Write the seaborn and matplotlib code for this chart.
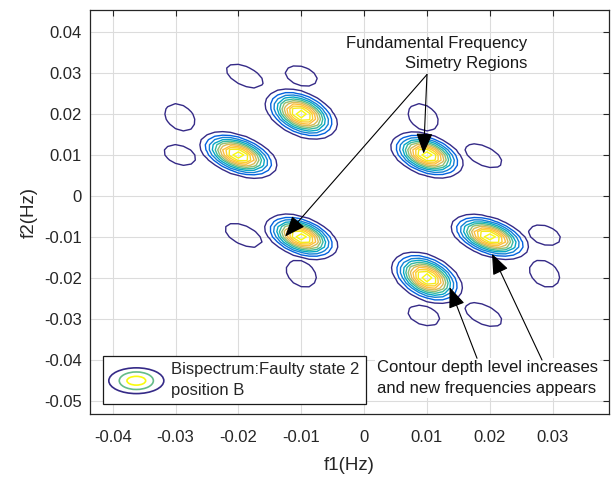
import numpy as np
import matplotlib
matplotlib.use("Agg")
import matplotlib.pyplot as plt
import seaborn as sns
from matplotlib.patches import Ellipse
from matplotlib.legend_handler import HandlerBase
from matplotlib.lines import Line2D
from matplotlib.colors import LinearSegmentedColormap

# ---------------- data ----------------
# main bispectrum peaks (f1, f2 in Hz), amplitude (normalised), lobe shape
peak_f1 = [-0.010, -0.020, 0.010, -0.010, 0.020, 0.010]
peak_f2 = [0.020, 0.010, 0.010, -0.010, -0.010, -0.020]
peak_amp = [1.0, 1.0, 1.0, 1.0, 1.0, 1.0]
peak_major = [37.5, 40.0, 37.0, 37.5, 40.0, 37.0]   # semi-axes of outer contour
peak_minor = [21.5, 19.5, 20.0, 19.5, 19.0, 22.0]
peak_tilt = [-24.0, -20.0, -20.0, -20.0, -19.0, -26.0]

# weak side lobes (only the lowest contour level)
blob_f1 = [-0.0190, -0.0100, -0.0293, -0.0293, 0.0094, 0.0190,
           -0.0192, -0.0100, 0.0287, 0.0287, 0.0095, 0.0190]
blob_f2 = [0.0293, 0.0293, 0.0192, 0.0100, 0.0192, 0.0098,
           -0.0096, -0.0190, -0.0096, -0.0190, -0.0292, -0.0290]
blob_amp = [0.14] * 12
blob_major = [20, 16.5, 16.5, 16.5, 16.5, 20, 20, 16.5, 16.5, 16.5, 16.5, 20]
blob_minor = [9.5, 9.5, 12, 9.5, 12, 9.5, 9.5, 12, 9.5, 12, 9.5, 9.5]
blob_tilt = [-25, -18, -35, -18, -35, -25, -25, -35, -18, -35, -18, -25]

contour_levels = [0.10, 0.182, 0.264, 0.346, 0.428, 0.51, 0.592, 0.674, 0.756, 0.838, 0.92]
f_axis_step = 0.00125

x_ticks = [-0.04, -0.03, -0.02, -0.01, 0, 0.01, 0.02, 0.03]
x_ticklabels = ["-0.04", "-0.03", "-0.02", "-0.01", "0", "0.01", "0.02", "0.03"]
y_ticks = [0.04, 0.03, 0.02, 0.01, 0, -0.01, -0.02, -0.03, -0.04, -0.05]
y_ticklabels = ["0.04", "0.03", "0.02", "0.01", "0", "-0.01", "-0.02", "-0.03", "-0.04", "-0.05"]

legend_label = "Bispectrum:Faulty state 2\nposition B"
note_top = "Fundamental Frequency\nSimetry Regions"
note_bottom = "Contour depth level increases\nand new frequencies appears"

# ---------------- style ----------------
sns.set_theme(style="white")
plt.rcParams["font.family"] = ["Liberation Sans", "DejaVu Sans"]
plt.rcParams["axes.unicode_minus"] = False

parula_anchor = [
    (0.2081, 0.1663, 0.5292), (0.0117, 0.3875, 0.8820), (0.0779, 0.5040, 0.8384),
    (0.0228, 0.6535, 0.7768), (0.2178, 0.7250, 0.6193), (0.5709, 0.7485, 0.4494),
    (0.8507, 0.7299, 0.3360), (0.9938, 0.7455, 0.2403), (0.9880, 0.8066, 0.1794),
    (0.9598, 0.9218, 0.0948), (0.9763, 0.9831, 0.0538)]
parula = LinearSegmentedColormap.from_list("parula", parula_anchor)

# ---------------- field ----------------
PX_X, PX_Y = 6280.0, 4086.0   # display aspect (px per Hz) used for lobe shapes
f = np.arange(-0.05, 0.05 + 1e-9, f_axis_step)
F1, F2 = np.meshgrid(f, f)
base = contour_levels[0]


def lobe(cx, cy, amp, a, b, tilt):
    du = (F1 - cx) * PX_X
    dv = (F2 - cy) * PX_Y
    t = np.deg2rad(tilt)
    p = du * np.cos(t) + dv * np.sin(t)
    q = -du * np.sin(t) + dv * np.cos(t)
    k = 2.0 * np.log(amp / base)
    return amp * np.exp(-0.5 * k * ((p / a) ** 2 + (q / b) ** 2))


Zp = np.zeros_like(F1)
for i in range(len(peak_f1)):
    Zp = np.maximum(Zp, lobe(peak_f1[i], peak_f2[i], peak_amp[i], peak_major[i], peak_minor[i], peak_tilt[i]))
Zb = np.zeros_like(F1)
for i in range(len(blob_f1)):
    Zb = np.maximum(Zb, lobe(blob_f1[i], blob_f2[i], blob_amp[i], blob_major[i], blob_minor[i], blob_tilt[i]))

# ---------------- figure ----------------
fig = plt.figure(figsize=(6.11, 4.78), dpi=100)
ax = fig.add_axes([0.1473, 0.1329, 0.8499, 0.8468])

ax.contour(F1, F2, Zp, levels=contour_levels, cmap=parula,
           vmin=contour_levels[0], vmax=contour_levels[-1], linewidths=1.0)
ax.contour(F1, F2, Zb, levels=contour_levels[:1], colors=[parula(0.0)], linewidths=1.0)

ax.set_xlim(-0.0436, 0.0390)
ax.set_ylim(-0.0534, 0.0455)
ax.set_xticks(x_ticks)
ax.set_xticklabels(x_ticklabels)
ax.set_yticks(y_ticks)
ax.set_yticklabels(y_ticklabels)
ax.grid(True, color="#dcdcdc", linewidth=0.8)
ax.set_axisbelow(True)
ax.tick_params(direction="in", length=4, width=0.8, top=True, right=True,
               labelsize=12, colors="#262626")
ax.tick_params(axis="x", pad=11)
ax.tick_params(axis="y", pad=6)
for s in ax.spines.values():
    s.set_edgecolor("#262626")
    s.set_linewidth(0.9)
    s.set_visible(True)
ax.set_xlabel("f1(Hz)", fontsize=13.5, color="#262626", labelpad=9)
ax.set_ylabel("f2(Hz)", fontsize=13.5, color="#262626", labelpad=4)

# annotations
ax.text(0.02597, 0.0348, note_top, ha="right", va="center", multialignment="right",
        fontsize=12, color="#1a1a1a", linespacing=1.45)
arrow_kw = dict(arrowstyle="-|>,head_length=0.75,head_width=0.3", color="black",
                lw=0.8, mutation_scale=17, shrinkA=0, shrinkB=0)
ax.annotate("", xy=(-0.01256, -0.00991), xytext=(0.0100, 0.02966), arrowprops=arrow_kw)
ax.annotate("", xy=(0.00946, 0.01033), xytext=(0.0100, 0.02966), arrowprops=arrow_kw)

ax.text(0.00209, -0.0445, note_bottom, ha="left", va="center", fontsize=12,
        color="#1a1a1a", linespacing=1.45,
        bbox=dict(facecolor="white", edgecolor="none", pad=1.5))
ax.annotate("", xy=(0.01360, -0.0223), xytext=(0.01796, -0.03967), arrowprops=arrow_kw)
ax.annotate("", xy=(0.02035, -0.01415), xytext=(0.02830, -0.0401), arrowprops=arrow_kw)


# legend with concentric-ellipse handle
class ContourHandle(HandlerBase):
    def create_artists(self, legend, orig_handle, xdescent, ydescent, width, height, fontsize, trans):
        cx = width / 2 - xdescent
        cy = height / 2 - ydescent
        arts = []
        for sw, sh, c in [(1.0, 1.0, parula(0.0)), (0.62, 0.68, parula(0.45)), (0.34, 0.34, parula(1.0))]:
            arts.append(Ellipse((cx, cy), width * sw, height * sh, fill=False,
                                edgecolor=c, lw=1.2, transform=trans))
        return arts


proxy = Line2D([], [])
leg = ax.legend([proxy], [legend_label], handler_map={Line2D: ContourHandle()},
                loc="lower left", bbox_to_anchor=(0.025, 0.027), borderaxespad=0,
                fontsize=12, frameon=True, fancybox=False, framealpha=1,
                edgecolor="#1a1a1a", handlelength=3.3, handleheight=2.0,
                handletextpad=0.45, borderpad=0.35)
leg.get_frame().set_linewidth(0.9)
for t in leg.get_texts():
    t.set_linespacing(1.45)

fig.savefig("out.png", dpi=100)
